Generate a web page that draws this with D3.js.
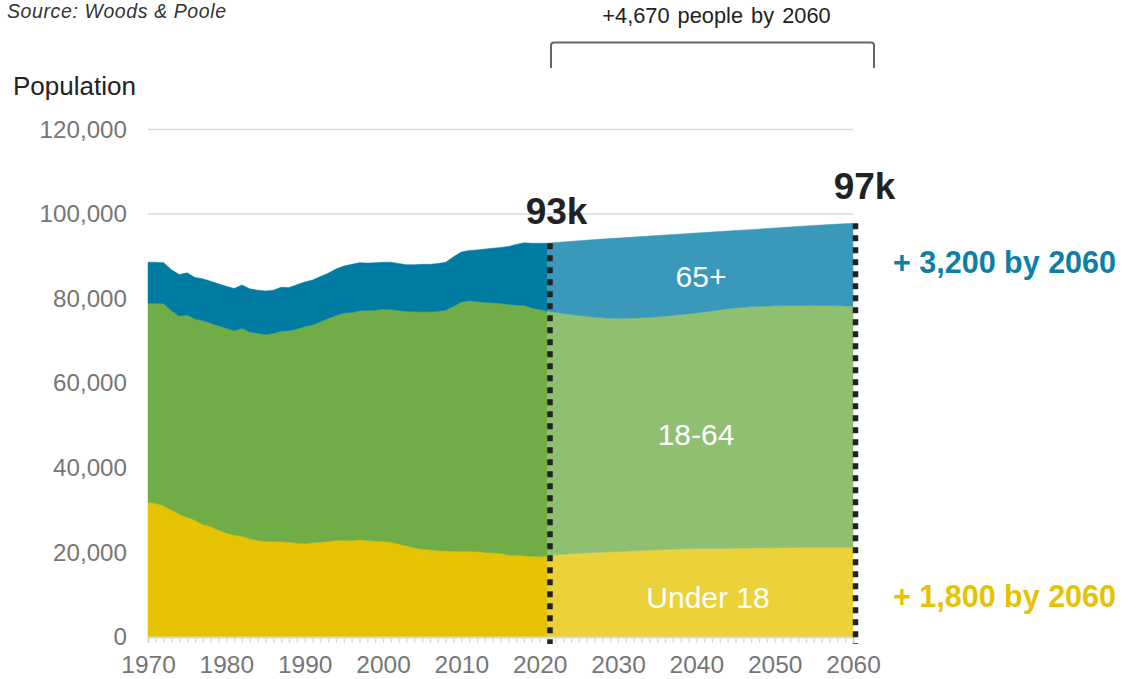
<!DOCTYPE html>
<html>
<head>
<meta charset="utf-8">
<script src="https://cdn.jsdelivr.net/npm/d3@7"></script>
<style>
  html, body { margin: 0; padding: 0; background: #fff; }
  svg { display: block; font-family: "Liberation Sans", Arial, sans-serif; }
</style>
</head>
<body>
<svg id="chart" width="1138" height="679"></svg>
<script>
// ---------------- DATA ----------------
const histYears = d3.range(1970, 2022);
const histUnder18 = [31900,31600,31000,30000,29000,28300,27600,26600,26100,25300,
  24600,24100,23800,23200,22900,22600,22600,22500,22400,22200,
  22100,22300,22400,22600,22800,22900,22800,23000,22800,22700,
  22600,22400,22000,21600,21100,20800,20600,20400,20400,20300,
  20300,20300,20200,20000,19900,19800,19400,19300,19200,19100,
  19000,19200];
const hist18to64 = [47000,47300,47800,47100,46900,47800,47600,48200,48100,48300,
  48400,48300,49200,48900,48900,48900,49200,49800,50000,50600,
  51300,51500,52100,52700,53200,53700,53900,54100,54400,54600,
  54900,55000,55200,55400,55800,56100,56300,56600,56900,57900,
  58900,59200,59100,59100,59100,59100,59200,59200,59200,58700,
  58400,57800];
const hist65plus = [9700,9700,9700,9700,9800,10000,9800,9900,9900,9900,
  9900,10000,10200,10200,10200,10300,10200,10400,10200,10500,
  10500,10600,10700,10700,11000,11100,11400,11400,11200,11200,
  11100,11200,11100,11000,11100,11200,11200,11300,11300,11700,
  11800,11900,12200,12600,12900,13200,13700,14300,14800,15300,
  15700,16100];

const projYears = [2021, 2025, 2030, 2035, 2040, 2045, 2050, 2055, 2060];
const projUnder18 = [19300, 19800, 20200, 20600, 20900, 21000, 21100, 21200, 21200];
const proj18to64 = [57700, 56200, 55100, 55100, 55700, 56800, 57200, 57200, 57000];
const proj65plus = [16100, 17700, 19000, 19200, 18900, 18300, 18400, 18900, 19600];

const keys = ["under18", "age18to64", "age65plus"];
const yTicks = [0, 20000, 40000, 60000, 80000, 100000, 120000];
const xTickLabels = [1970, 1980, 1990, 2000, 2010, 2020, 2030, 2040, 2050, 2060];
const startYear = 2021, endYear = 2060;
const startTotalLabel = "93k", endTotalLabel = "97k";
const bracketLabel = "+4,670 people by 2060";
const seniorChange = "+ 3,200 by 2060", youthChange = "+ 1,800 by 2060";
const segmentLabels = ["Under 18", "18-64", "65+"];

// ---------------- SETUP ----------------
const svg = d3.select("#chart");
const x = d3.scaleLinear().domain([1970, 2060]).range([148, 853]);
const y = d3.scaleLinear().domain([0, 120000]).range([637, 129.4]);

const histColors = { under18: "#E6C300", age18to64: "#70AD47", age65plus: "#007CA3" };
const projColors = { under18: "#EBD13A", age18to64: "#8FBF70", age65plus: "#3A99BA" };

const histRows = histYears.map((yr, i) => ({ year: yr, under18: histUnder18[i], age18to64: hist18to64[i], age65plus: hist65plus[i] }));
const projRows = projYears.map((yr, i) => ({ year: yr, under18: projUnder18[i], age18to64: proj18to64[i], age65plus: proj65plus[i] }));

const stack = d3.stack().keys(keys);
const histStack = stack(histRows);
const projStack = stack(projRows);

// gridlines
svg.append("g").selectAll("line").data(yTicks.filter(d => d > 0)).join("line")
  .attr("x1", x(1970)).attr("x2", x(2060))
  .attr("y1", d => y(d)).attr("y2", d => y(d))
  .attr("stroke", "#d9d9d9").attr("stroke-width", 1.5);

// areas
const areaHist = d3.area().x(d => x(d.data.year)).y0(d => y(d[0])).y1(d => y(d[1])).curve(d3.curveLinear);
const areaProj = d3.area().x(d => x(d.data.year)).y0(d => y(d[0])).y1(d => y(d[1])).curve(d3.curveMonotoneX);

svg.append("g").selectAll("path").data(histStack).join("path")
  .attr("d", areaHist).attr("fill", d => histColors[d.key]).attr("stroke", d => histColors[d.key]).attr("stroke-width", 0.5);
svg.append("g").selectAll("path").data(projStack).join("path")
  .attr("d", areaProj).attr("fill", d => projColors[d.key]).attr("stroke", d => projColors[d.key]).attr("stroke-width", 0.5);

// x axis
const xAxisG = svg.append("g").attr("transform", `translate(0,${y(0)})`)
  .call(d3.axisBottom(x).tickValues(d3.range(1970, 2061)).tickSize(6).tickFormat(""));
xAxisG.select(".domain").attr("stroke", "#d9d9d9").attr("stroke-width", 2);
xAxisG.selectAll(".tick line").attr("stroke", "#d9d9d9").attr("stroke-width", 1.2);

const xLab = svg.append("g").attr("transform", `translate(0,${y(0)})`)
  .call(d3.axisBottom(x).tickValues(xTickLabels).tickSize(0).tickPadding(19).tickFormat(d3.format("d")));
xLab.select(".domain").remove();
xLab.selectAll("text").attr("font-size", 24.5).attr("fill", "#767676").attr("font-family", "Liberation Sans, Arial, sans-serif");

// y axis
const yAx = svg.append("g").attr("transform", `translate(127,0)`)
  .call(d3.axisLeft(y).tickValues(yTicks).tickSize(0).tickPadding(0).tickFormat(d3.format(",")));
yAx.select(".domain").remove();
yAx.selectAll("text").attr("font-size", 24.2).attr("fill", "#767676").attr("font-family", "Liberation Sans, Arial, sans-serif");

// dotted vertical lines
const totalAt = (rows, yr) => { const r = rows.find(d => d.year === yr); return r.under18 + r.age18to64 + r.age65plus; };
[[startYear, projRows], [endYear, projRows]].forEach(([yr, rows]) => {
  svg.append("line")
    .attr("x1", x(yr) + 2.5).attr("x2", x(yr) + 2.5)
    .attr("y1", y(totalAt(rows, yr))).attr("y2", y(0) + 7)
    .attr("stroke", "#222").attr("stroke-width", 5.5).attr("stroke-dasharray", "6,6");
});

// totals
svg.append("text").attr("x", x(startYear) + 9).attr("y", 224).attr("text-anchor", "middle")
  .attr("font-size", 37).attr("font-weight", "bold").attr("fill", "#222").text(startTotalLabel);
svg.append("text").attr("x", x(endYear) + 11.5).attr("y", 199).attr("text-anchor", "middle")
  .attr("font-size", 37).attr("font-weight", "bold").attr("fill", "#222").text(endTotalLabel);

// segment labels
const lblX = [708, 696, 701];
const lblY = [608, 445, 287];
segmentLabels.forEach((t, i) => {
  svg.append("text").attr("x", lblX[i]).attr("y", lblY[i]).attr("text-anchor", "middle")
    .attr("font-size", 30).attr("fill", "#fff").text(t);
});

// change labels
svg.append("text").attr("x", 893).attr("y", 273).attr("font-size", 30.5).attr("font-weight", "bold")
  .attr("fill", "#0B7FA6").text(seniorChange);
svg.append("text").attr("x", 893).attr("y", 607).attr("font-size", 30.5).attr("font-weight", "bold")
  .attr("fill", "#E6C300").text(youthChange);

// bracket
const bx1 = x(startYear) + 3.5, bx2 = 874, by1 = 42.5, by2 = 68;
svg.append("path")
  .attr("d", `M${bx1},${by2} L${bx1},${by1 + 3} Q${bx1},${by1} ${bx1 + 3},${by1} L${bx2 - 3},${by1} Q${bx2},${by1} ${bx2},${by1 + 3} L${bx2},${by2}`)
  .attr("fill", "none").attr("stroke", "#666").attr("stroke-width", 2);
svg.append("text").attr("x", 716.5).attr("y", 23).attr("text-anchor", "middle")
  .attr("font-size", 21.8).attr("fill", "#222").attr("word-spacing", 2).text(bracketLabel);

// titles
svg.append("text").attr("x", 13).attr("y", 95).attr("font-size", 26).attr("fill", "#222").text("Population");
svg.append("text").attr("x", 7).attr("y", 18).attr("font-size", 19.5).attr("font-style", "italic").attr("fill", "#333")
  .attr("letter-spacing", 0.6).text("Source: Woods & Poole");
</script>
</body>
</html>
